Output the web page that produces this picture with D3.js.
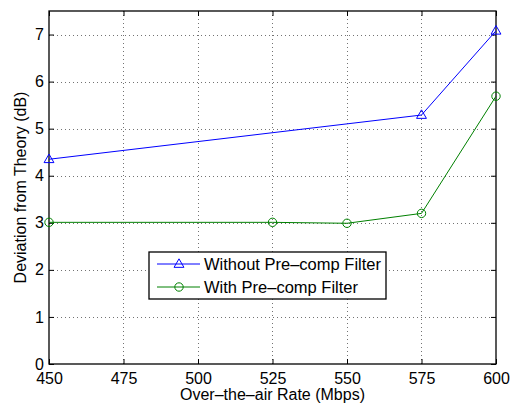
<!DOCTYPE html>
<html>
<head>
<meta charset="utf-8">
<script src="https://cdn.jsdelivr.net/npm/d3@7"></script>
<style>
  body { margin: 0; background: #fff; }
  svg text { font-family: "Liberation Sans", Arial, sans-serif; fill: #000; }
</style>
</head>
<body>
<div id="chart"></div>
<script>
// data
var rates = [450, 575, 600];
var withoutFilter = [4.35, 5.29, 7.08];
var ratesWith = [450, 525, 550, 575, 600];
var withFilter = [3.01, 3.01, 2.99, 3.2, 5.69];
var xTicks = [450, 475, 500, 525, 550, 575, 600];
var yTicks = [0, 1, 2, 3, 4, 5, 6, 7];
var seriesNames = ["Without Pre\u2013comp Filter", "With Pre\u2013comp Filter"];

var W = 512, H = 405;
var m = {left: 49, right: 16, top: 11, bottom: 41};
var iw = W - m.left - m.right, ih = H - m.top - m.bottom;

var svg = d3.select("#chart").append("svg").attr("width", W).attr("height", H);
var g = svg.append("g").attr("transform", "translate(" + m.left + "," + m.top + ")");

var x = d3.scaleLinear().domain([450, 600]).range([0, iw]);
var y = d3.scaleLinear().domain([0, 7.5]).range([ih, 0]);

// grid
g.selectAll(".gx").data(xTicks.slice(1, -1)).enter().append("line")
  .attr("x1", function(d){ return x(d) }).attr("x2", function(d){ return x(d) })
  .attr("y1", 0).attr("y2", ih)
  .attr("stroke", "#000").attr("stroke-opacity", 0.55).attr("stroke-width", 1)
  .attr("stroke-dasharray", "1,3").attr("shape-rendering", "crispEdges");
g.selectAll(".gy").data(yTicks.slice(1)).enter().append("line")
  .attr("x1", 0).attr("x2", iw)
  .attr("y1", function(d){ return Math.round(y(d)) + 0.5 }).attr("y2", function(d){ return Math.round(y(d)) + 0.5 })
  .attr("stroke", "#000").attr("stroke-opacity", 0.55).attr("stroke-width", 1)
  .attr("stroke-dasharray", "1,3");

// axes, ticks pointing inward
var xAxis = d3.axisBottom(x).tickValues(xTicks).tickSize(-5).tickPadding(9);
var yAxis = d3.axisLeft(y).tickValues(yTicks).tickSize(-5).tickPadding(5);
var ga = g.append("g").attr("transform", "translate(0," + ih + ")").call(xAxis);
var gb = g.append("g").call(yAxis);
g.append("g").call(d3.axisTop(x).tickValues(xTicks).tickSize(-5).tickFormat(""));
g.append("g").attr("transform", "translate(" + iw + ",0)").call(d3.axisRight(y).tickValues(yTicks).tickSize(-5).tickFormat(""));
g.selectAll(".domain").remove();
g.selectAll(".tick line").attr("stroke", "#000");
[ga, gb].forEach(function(a){
  a.selectAll("text").style("font-size", "16px").attr("fill", "#000");
});
g.append("rect").attr("width", iw).attr("height", ih)
  .attr("fill", "none").attr("stroke", "#000").attr("stroke-width", 1.3);

// lines
var line = d3.line().x(function(d){ return x(d[0]) }).y(function(d){ return y(d[1]) });
var blueData = rates.map(function(r, i){ return [r, withoutFilter[i]] });
var greenData = ratesWith.map(function(r, i){ return [r, withFilter[i]] });

g.append("path").datum(blueData).attr("d", line).attr("fill", "none").attr("stroke", "#0000ff").attr("stroke-width", 1);
g.append("path").datum(greenData).attr("d", line).attr("fill", "none").attr("stroke", "#008000").attr("stroke-width", 1);

var tri = d3.symbol().type(d3.symbolTriangle).size(42);
g.selectAll(".tri").data(blueData).enter().append("path")
  .attr("d", tri)
  .attr("transform", function(d){ return "translate(" + x(d[0]) + "," + (y(d[1]) + 0.5) + ")" })
  .attr("fill", "none").attr("stroke", "#0000ff").attr("stroke-width", 1);
g.selectAll(".circ").data(greenData).enter().append("circle")
  .attr("cx", function(d){ return x(d[0]) }).attr("cy", function(d){ return y(d[1]) })
  .attr("r", 4.2).attr("fill", "none").attr("stroke", "#008000").attr("stroke-width", 1);

// legend
var lg = svg.append("g").attr("transform", "translate(149,252)");
lg.append("rect").attr("width", 237).attr("height", 47).attr("fill", "#fff").attr("stroke", "#000").attr("stroke-width", 1.3);
var colors = ["#0000ff", "#008000"];
seriesNames.forEach(function(name, i){
  var yy = 12 + i * 23;
  lg.append("line").attr("x1", 8).attr("x2", 51).attr("y1", yy).attr("y2", yy).attr("stroke", colors[i]);
  if (i === 0) {
    lg.append("path").attr("d", tri).attr("transform", "translate(30," + (yy + 0.5) + ")")
      .attr("fill", "none").attr("stroke", colors[i]);
  } else {
    lg.append("circle").attr("cx", 30).attr("cy", yy).attr("r", 4.2).attr("fill", "none").attr("stroke", colors[i]);
  }
  lg.append("text").attr("x", 55).attr("y", yy + 6).style("font-size", "16.5px").text(name);
});

// axis labels
svg.append("text").attr("x", m.left + iw / 2).attr("y", 400).attr("text-anchor", "middle")
  .style("font-size", "16px").text("Over\u2013the\u2013air Rate (Mbps)");
svg.append("text").attr("transform", "translate(26," + (m.top + ih / 2) + ") rotate(-90)")
  .attr("text-anchor", "middle").style("font-size", "16px").text("Deviation from Theory (dB)");
</script>
</body>
</html>
